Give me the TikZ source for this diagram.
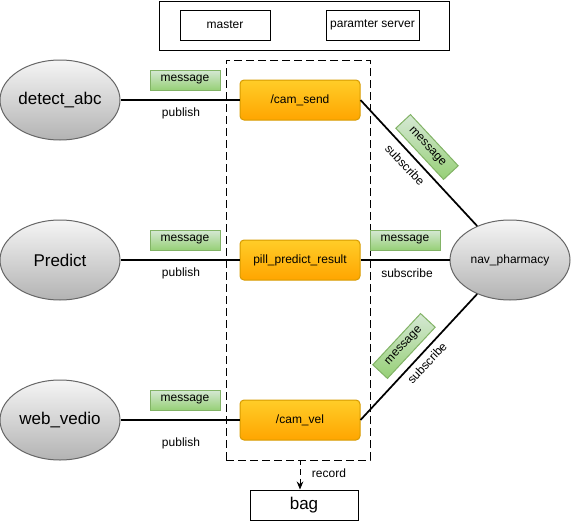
\documentclass[tikz,border=0pt]{standalone}
\usepackage{fontspec}
\setmainfont{Liberation Sans}
\usetikzlibrary{shapes.geometric,arrows.meta}
\definecolor{ellstroke}{HTML}{666666}
\definecolor{elltop}{HTML}{F5F5F5}
\definecolor{ellbot}{HTML}{B3B3B3}
\definecolor{ortop}{HTML}{FFCD28}
\definecolor{orbot}{HTML}{FFA500}
\definecolor{orstroke}{HTML}{D79B00}
\definecolor{grtop}{HTML}{D5E8D4}
\definecolor{grbot}{HTML}{97D077}
\definecolor{grstroke}{HTML}{82B366}
\begin{document}
\begin{tikzpicture}[x=0.75pt,y=-0.75pt,
  small/.style={font=\fontsize{9}{11}\selectfont},
  big/.style={font=\fontsize{12.75}{15}\selectfont},
  grayell/.style={ellipse, draw=ellstroke, line width=0.75pt, top color=elltop, bottom color=ellbot,
    minimum width=90pt, minimum height=60pt, inner sep=0pt, big},
  navell/.style={grayell, small},
  topic/.style={rectangle, rounded corners=3pt, draw=orstroke, line width=0.75pt, top color=ortop, bottom color=orbot,
    minimum width=90pt, minimum height=30pt, inner sep=0pt, small},
  msg/.style={rectangle, draw=grstroke, line width=0.75pt, top color=grtop, bottom color=grbot,
    minimum width=52.5pt, minimum height=15pt, inner sep=0pt, small},
  plainbox/.style={rectangle, draw=black, line width=0.75pt, fill=white, inner sep=0pt, small},
  conn/.style={line width=1.3pt, black},
  lbl/.style={small, inner sep=0pt}
]
\useasboundingbox (0,0) rectangle (571,521);

% top box
\node[plainbox, minimum width=217.5pt, minimum height=36.75pt] (core) at (304.5,25.5) {};
\node[plainbox, minimum width=67.5pt, minimum height=22.5pt] (master) at (225,25) {master};
\node[plainbox, minimum width=69.75pt, minimum height=22.5pt] (param) at (372.5,25) {paramter server};

% dashed group
\node[draw=black, line width=0.75pt, dash pattern=on 6pt off 3pt, minimum width=108pt, minimum height=300pt, inner sep=0pt] (grp) at (298,260) {};

% publishers
\node[grayell] (det) at (60,100) {detect\_abc};
\node[grayell] (pred) at (60,260) {Predict};
\node[grayell] (web) at (60,420) {web\_vedio};

% topics
\node[topic] (cs) at (300,100) {/cam\_send};
\node[topic] (ppr) at (300,260) {pill\_predict\_result};
\node[topic] (cv) at (300,420) {/cam\_vel};

% subscriber
\node[navell] (nav) at (510,260) {nav\_pharmacy};

% connectors
\draw[conn] (det) -- (cs);
\draw[conn] (pred) -- (ppr);
\draw[conn] (web) -- (cv);
\draw[conn] (cs.east) -- (nav.134);
\draw[conn] (ppr) -- (nav);
\draw[conn] (cv.east) -- (nav.226);

% labels publish
\node[msg] (m1) at (185,80) {message};
\node[lbl] (p1) at (181,113) {publish};
\node[msg] (m2) at (185,240) {message};
\node[lbl] (p2) at (181,273) {publish};
\node[msg] (m3) at (185,400) {message};
\node[lbl] (p3) at (181,443) {publish};

% labels subscribe
\node[msg, rotate=-47] (m4) at (427,147) {message};
\node[lbl, rotate=-47] (s4) at (405,165) {subscribe};
\node[msg, rotate=47] (m6) at (404,346) {message};
\node[lbl, rotate=47] (s6) at (427,363) {subscribe};
\node[msg] (m5) at (405,240) {message};
\node[lbl] (s5) at (407,273) {subscribe};

% record
\node[plainbox, minimum width=81pt, minimum height=22.5pt, big] (bag) at (304,505) {bag};
\coordinate (rec) at (300,460);
\draw[line width=0.75pt, dash pattern=on 4pt off 3pt, -{Stealth[length=6pt,width=5pt]}] (rec) -- (rec |- bag.north);
\node[lbl] (rl) at (329,473) {record};
\end{tikzpicture}
\end{document}
